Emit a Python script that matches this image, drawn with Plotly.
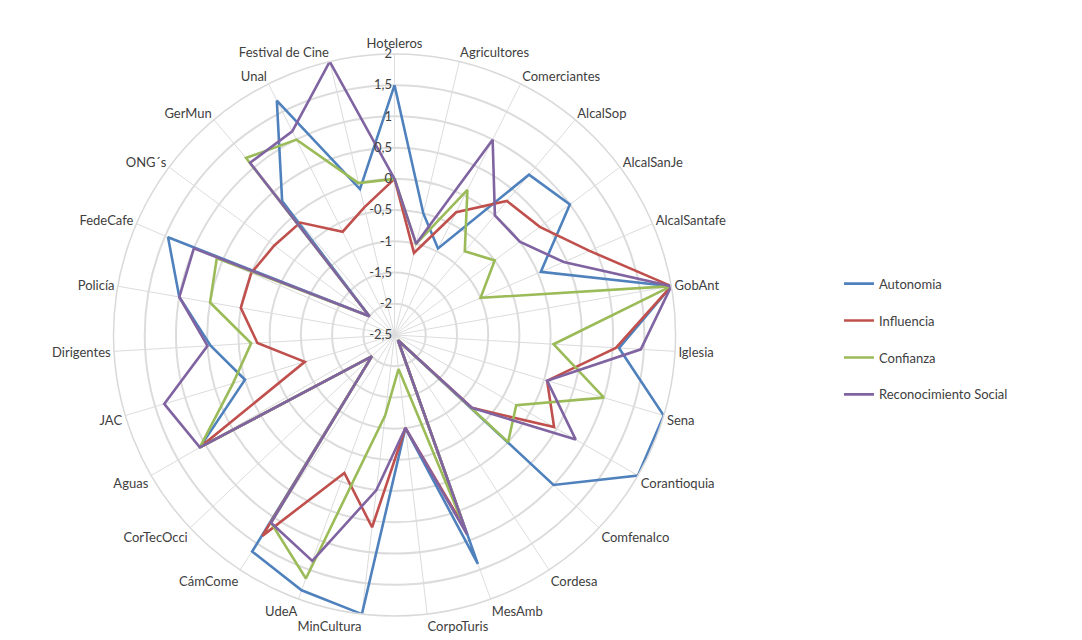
import plotly.graph_objects as go

categories = ["Hoteleros", "Agricultores", "Comerciantes", "AlcalSop", "AlcalSanJe",
              "AlcalSantafe", "GobAnt", "Iglesia", "Sena", "Corantioquia", "Comfenalco",
              "Cordesa", "MesAmb", "CorpoTuris", "MinCultura", "UdeA", "CámCome",
              "CorTecOcci", "Aguas", "JAC", "Dirigentes", "Policía", "FedeCafe",
              "ONG´s", "GerMun", "Unal", "Festival de Cine"]

autonomia = [1.5, -0.5, -0.95, 0.85, 1.0, 0.05, 2.0, 1.1, 2.0, 2.0, 1.0, -2.4, 1.4,
             -1.0, 2.0, 1.85, 1.65, -2.0, 1.1, 0.0, 0.45, 1.0, 1.45, -2.0, 0.3, 1.7, -0.1]
influencia = [0.0, -1.15, -0.3, 0.3, 0.4, 0.9, 2.0, 1.05, 0.05, 0.45, -0.8, -2.4, 0.8,
              -1.0, 0.6, -0.15, 1.35, -2.0, 1.1, -1.0, -0.3, 0.0, 0.0, -0.1, -0.15, -0.65, -0.4]
confianza = [0.0, -1.0, 0.1, -0.75, -0.5, -1.0, 2.0, 0.05, 1.0, -0.25, 0.0, -2.4, 0.8,
             -1.95, -1.2, 1.65, 1.1, -2.0, 1.1, 0.2, -0.2, 0.5, 0.6, -2.0, 1.2, 1.0, 0.0]
reconocimiento = [0.0, -1.0, 1.0, 0.0, 0.0, 0.45, 2.0, 1.45, 0.05, 0.85, -0.8, -2.4, 0.9,
                  -1.0, 0.0, 1.35, 1.1, -2.0, 1.1, 1.35, 0.5, 1.0, 1.0, -2.0, 1.1, 1.15, 2.0]

series_names = ["Autonomia", "Influencia", "Confianza", "Reconocimiento Social"]
series_colors = ["#4F81BD", "#C0504D", "#9BBB59", "#8064A2"]

radial_tickvals = [-2.5, -2, -1.5, -1, -0.5, 0, 0.5, 1, 1.5, 2]
radial_ticktext = ["-2,5", "-2", "-1,5", "-1", "-0,5", "0", "0,5", "1", "1,5", "2"]

fig = go.Figure()
for name, vals, col in zip(series_names, [autonomia, influencia, confianza, reconocimiento], series_colors):
    fig.add_trace(go.Scatterpolar(
        r=vals + vals[:1],
        theta=categories + categories[:1],
        mode="lines",
        name=name,
        legendgroup=name,
        line=dict(color=col, width=2.6),
    ))

font_family = "Lato, 'Open Sans', sans-serif"

fig.update_layout(
    width=1082, height=640,
    margin=dict(l=0, r=0, t=0, b=0),
    paper_bgcolor="white",
    plot_bgcolor="white",
    font=dict(family=font_family, size=13, color="#595959"),
    polar=dict(
        domain=dict(x=[0.0975, 0.617], y=[0.0500, 0.9282]),
        bgcolor="white",
        angularaxis=dict(
            direction="clockwise",
            rotation=90,
            categoryorder="array",
            categoryarray=categories,
            gridcolor="#dcdcdc",
            gridwidth=1,
            showline=True,
            linecolor="#d9d9d9",
            linewidth=1.5,
            ticks="",
            tickfont=dict(size=13, color="#404040"),
        ),
        radialaxis=dict(
            range=[-2.5, 2],
            tickvals=radial_tickvals,
            ticktext=radial_ticktext,
            ticksuffix="\u00a0\u00a0",
            angle=90,
            tickangle=90,
            side="counterclockwise",
            showline=False,
            ticks="",
            gridcolor="#dcdcdc",
            gridwidth=1.5,
            tickfont=dict(size=13, color="#404040"),
        ),
    ),
    legend=dict(
        x=0.768, y=0.4825, xanchor="left", yanchor="middle",
        font=dict(size=13, color="#404040"),
        traceorder="grouped",
        tracegroupgap=17,
        bgcolor="rgba(0,0,0,0)",
    ),
)

fig.write_html("out.html")
